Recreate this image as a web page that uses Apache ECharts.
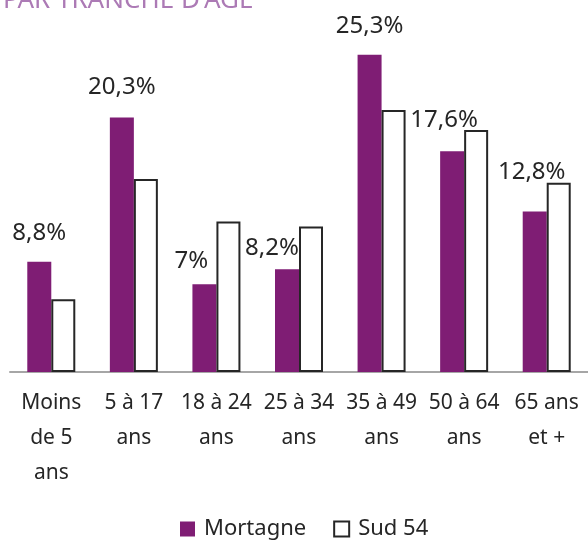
<!DOCTYPE html>
<html>
<head>
<meta charset="utf-8">
<script src="https://cdn.jsdelivr.net/npm/echarts@6/dist/echarts.min.js"></script>
<style>
  html, body { margin: 0; padding: 0; background: #fff; }
  #chart { width: 588px; height: 542px; }
</style>
</head>
<body>
<div id="chart"></div>
<script>
const categories = ['Moins\nde 5\nans', '5 à 17\nans', '18 à 24\nans', '25 à 34\nans', '35 à 49\nans', '50 à 64\nans', '65 ans\net +']
const mortagne = [8.8, 20.3, 7, 8.2, 25.3, 17.6, 12.8]
const sud54 = [5.8, 15.4, 12.0, 11.6, 20.9, 19.3, 15.1]

// decalage des etiquettes (comme dans l'original)
const labelShift = [[0, -10], [0, -11], [-13, -4], [-15, -2], [0, -10], [-8, -12], [-3, -20]]

const fontFamily = 'Noto Sans'
const purple = '#7f1d74'

const myChart = echarts.init(document.getElementById('chart'))

const option = {
    animation: false,
    textStyle: { fontFamily: fontFamily },
    title: {
        text: "PAR TRANCHE D'AGE",
        left: -2,
        top: -19,
        textStyle: {
            color: '#ac7ab5',
            fontSize: 26,
            fontWeight: 'normal',
            lineHeight: 30,
            fontFamily: fontFamily
        }
    },
    legend: {
        top: 517,
        left: 180,
        padding: 0,
        itemWidth: 15,
        itemHeight: 15,
        itemGap: 27,
        textStyle: { fontSize: 22, lineHeight: 24, color: '#262626', padding: [0, 0, 0, 4] },
        data: [
            { name: 'Mortagne', icon: 'rect' },
            { name: 'Sud 54', icon: 'rect' }
        ]
    },
    grid: {
        left: 10,
        right: 0,
        top: 21,
        bottom: 170
    },
    xAxis: {
        type: 'category',
        data: categories,
        axisLine: { lineStyle: { color: '#a6a6a6', width: 2 } },
        axisTick: { show: false },
        axisLabel: {
            interval: 0,
            fontSize: 21,
            lineHeight: 35,
            margin: 14,
            color: '#262626'
        }
    },
    yAxis: {
        type: 'value',
        min: 0,
        max: 28,
        show: false,
        splitLine: { show: false }
    },
    series: [
        {
            name: 'Mortagne',
            type: 'bar',
            barWidth: 24,
            barGap: '0%',
            itemStyle: { color: purple },
            label: {
                show: true,
                position: 'top',
                fontSize: 24,
                lineHeight: 28,
                color: '#262626',
                formatter: p => String(p.value).replace('.', ',') + '%'
            },
            data: mortagne.map((v, i) => ({ value: v, label: { offset: labelShift[i] } }))
        },
        {
            name: 'Sud 54',
            type: 'bar',
            barWidth: 24,
            barGap: '0%',
            itemStyle: { color: '#ffffff', borderColor: '#262626', borderWidth: 2 },
            data: sud54
        }
    ]
}

myChart.setOption(option)
</script>
</body>
</html>
